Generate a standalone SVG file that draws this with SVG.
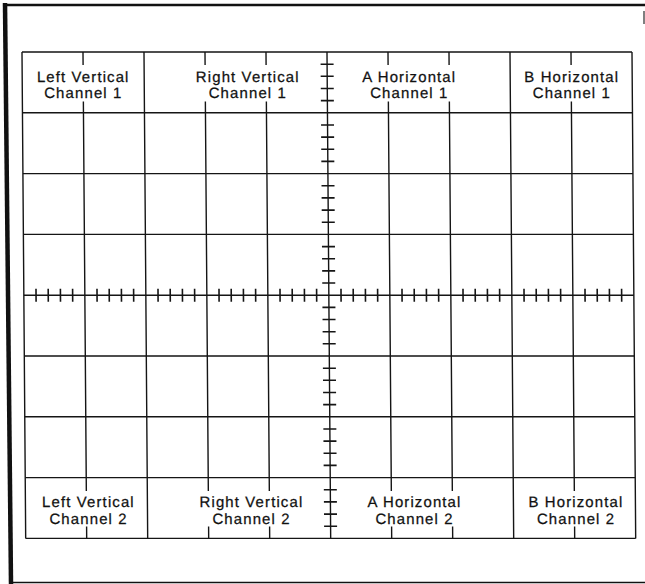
<svg xmlns="http://www.w3.org/2000/svg" width="645" height="584" viewBox="0 0 645 584">
<style>
.g{stroke:#151515;stroke-width:1.4;fill:none;stroke-linecap:butt}
.t{stroke:#151515;stroke-width:1.6;fill:none}
.b{stroke:#111;fill:none}
.lb{font-family:"Liberation Sans",Arial,Helvetica,sans-serif;font-size:15px;letter-spacing:1.1px;fill:#111;stroke:#111;stroke-width:0.25;text-anchor:middle}
</style>
<rect width="645" height="584" fill="#fff"/>
<g id="frame">
<line class="b" x1="5" y1="3" x2="11" y2="584" stroke-width="4.5"/>
<line class="b" x1="3" y1="5" x2="645" y2="5" stroke-width="2.5"/>
<line class="b" x1="9" y1="582.5" x2="645" y2="582.5" stroke-width="1.5"/>
<line x1="644" y1="11" x2="644" y2="24" stroke="#555" stroke-width="1.5"/>
</g>
<g id="graticule" transform="matrix(1 0 0.0076 1 -0.4 0)">
<g id="grid-lines">
<path class="g" d="M22 52H632M22 112.8H632M22 173.6H632M22 234.4H632M22 295.2H632M22 356H632M22 416.8H632M22 477.6H632M22 538.4H632"/>
<path class="g" d="M22 52V538.4M144 52V538.4M327 52V538.4M510 52V538.4M632 52V538.4"/>
<path class="g" d="M83 112.8V477.6M205 112.8V477.6M266 112.8V477.6M388 112.8V477.6M449 112.8V477.6M571 112.8V477.6"/>
<path class="g" d="M83 52V65M83 101.5V112.8M83 477.6V491M83 526.5V538.4
M205 52V65M205 101.5V112.8M205 477.6V491M205 526.5V538.4
M266 52V65M266 101.5V112.8M266 477.6V491M266 526.5V538.4
M388 52V65M388 101.5V112.8M388 477.6V491M388 526.5V538.4
M449 52V65M449 101.5V112.8M449 477.6V491M449 526.5V538.4
M571 52V65M571 101.5V112.8M571 477.6V491M571 526.5V538.4"/>
</g>
<g id="axis-ticks">
<path class="t" d="M320.5 64.2H333.5M320.5 76.3H333.5M320.5 88.5H333.5M320.5 100.6H333.5
M320.5 125H333.5M320.5 137.1H333.5M320.5 149.3H333.5M320.5 161.4H333.5
M320.5 185.8H333.5M320.5 197.9H333.5M320.5 210.1H333.5M320.5 222.2H333.5
M320.5 246.6H333.5M320.5 258.7H333.5M320.5 270.9H333.5M320.5 283H333.5
M320.5 307.4H333.5M320.5 319.5H333.5M320.5 331.7H333.5M320.5 343.8H333.5
M320.5 368.2H333.5M320.5 380.3H333.5M320.5 392.5H333.5M320.5 404.6H333.5
M320.5 429H333.5M320.5 441.1H333.5M320.5 453.3H333.5M320.5 465.4H333.5
M320.5 489.8H333.5M320.5 501.9H333.5M320.5 514.1H333.5M320.5 526.2H333.5"/>
<path class="t" d="M34.2 288.7V301.7M46.4 288.7V301.7M58.6 288.7V301.7M70.8 288.7V301.7
M95.2 288.7V301.7M107.4 288.7V301.7M119.6 288.7V301.7M131.8 288.7V301.7
M156.2 288.7V301.7M168.4 288.7V301.7M180.6 288.7V301.7M192.8 288.7V301.7
M217.2 288.7V301.7M229.4 288.7V301.7M241.6 288.7V301.7M253.8 288.7V301.7
M278.2 288.7V301.7M290.4 288.7V301.7M302.6 288.7V301.7M314.8 288.7V301.7
M339.2 288.7V301.7M351.4 288.7V301.7M363.6 288.7V301.7M375.8 288.7V301.7
M400.2 288.7V301.7M412.4 288.7V301.7M424.6 288.7V301.7M436.8 288.7V301.7
M461.2 288.7V301.7M473.4 288.7V301.7M485.6 288.7V301.7M497.8 288.7V301.7
M522.2 288.7V301.7M534.4 288.7V301.7M546.6 288.7V301.7M558.8 288.7V301.7
M583.2 288.7V301.7M595.4 288.7V301.7M607.6 288.7V301.7M619.8 288.7V301.7"/>
</g>
<g id="label-left-vertical-1"><text class="lb" x="83" y="82">Left Vertical</text><text class="lb" x="83" y="98.5">Channel 1</text></g>
<g id="label-right-vertical-1"><text class="lb" x="247.5" y="82">Right Vertical</text><text class="lb" x="247.5" y="98.5">Channel 1</text></g>
<g id="label-a-horizontal-1"><text class="lb" x="409" y="82">A Horizontal</text><text class="lb" x="409" y="98.5">Channel 1</text></g>
<g id="label-b-horizontal-1"><text class="lb" x="571.5" y="82">B Horizontal</text><text class="lb" x="571.5" y="98.5">Channel 1</text></g>
<g id="label-left-vertical-2"><text class="lb" x="85" y="507">Left Vertical</text><text class="lb" x="85" y="524">Channel 2</text></g>
<g id="label-right-vertical-2"><text class="lb" x="248" y="507">Right Vertical</text><text class="lb" x="248" y="524">Channel 2</text></g>
<g id="label-a-horizontal-2"><text class="lb" x="411" y="507">A Horizontal</text><text class="lb" x="411" y="524">Channel 2</text></g>
<g id="label-b-horizontal-2"><text class="lb" x="572.5" y="507">B Horizontal</text><text class="lb" x="572.5" y="524">Channel 2</text></g>
</g>
</svg>
